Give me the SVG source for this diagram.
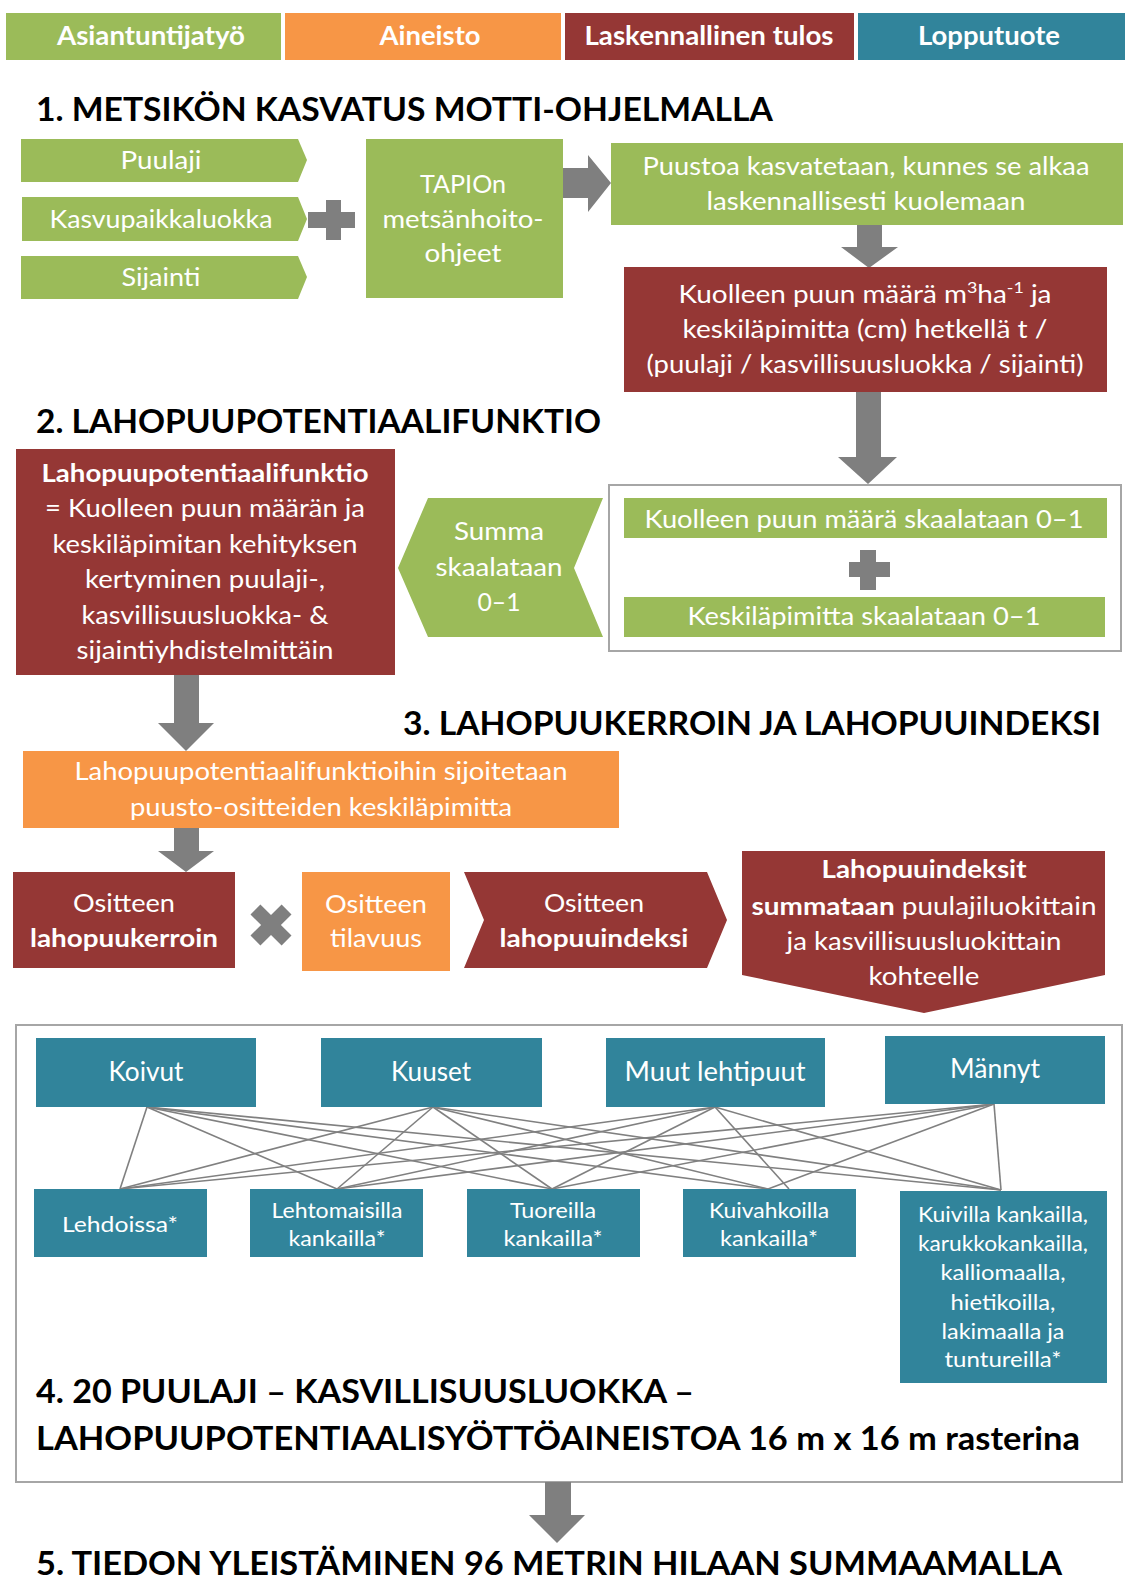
<svg xmlns="http://www.w3.org/2000/svg" width="1125" height="1579" viewBox="0 0 1125 1579">
<style>
text{font-family:Lato,"Open Sans","Liberation Sans",sans-serif;fill:#fff;text-anchor:middle;font-size:25px}
.t{fill:#000;font-weight:bold;font-size:33px;text-anchor:start}
.lg{font-weight:bold;font-size:26px}
.b{font-weight:bold}
.sp{font-size:26px}
.sm{font-size:21px}
.g{fill:#9BBB59}
.o{fill:#F79646}
.r{fill:#953735}
.c{fill:#31849B}
.ar{fill:#7F7F7F}
.frame{fill:#fff;stroke:#A6A6A6;stroke-width:2}
.ln{stroke:#808080;stroke-width:1.6;fill:none}
</style>
<rect width="1125" height="1579" fill="#fff"/>

<g id="legend">
<g id="legend-expert"><rect class="g" x="6" y="13" width="275" height="47"/><text class="lg" x="151" y="45" textLength="188" lengthAdjust="spacingAndGlyphs">Asiantuntijatyö</text></g>
<g id="legend-data"><rect class="o" x="285" y="13" width="276" height="47"/><text class="lg" x="430" y="45" textLength="101" lengthAdjust="spacingAndGlyphs">Aineisto</text></g>
<g id="legend-calc"><rect class="r" x="565" y="13" width="289" height="47"/><text class="lg" x="709" y="45" textLength="249" lengthAdjust="spacingAndGlyphs">Laskennallinen tulos</text></g>
<g id="legend-product"><rect class="c" x="858" y="13" width="267" height="47"/><text class="lg" x="989" y="45" textLength="142" lengthAdjust="spacingAndGlyphs">Lopputuote</text></g>
</g>

<g id="titles">
<text class="t" x="36" y="121" textLength="737" lengthAdjust="spacingAndGlyphs">1. METSIKÖN KASVATUS MOTTI-OHJELMALLA</text>
<text class="t" x="36" y="433" textLength="565" lengthAdjust="spacingAndGlyphs">2. LAHOPUUPOTENTIAALIFUNKTIO</text>
<text class="t" x="403" y="735" textLength="698" lengthAdjust="spacingAndGlyphs">3. LAHOPUUKERROIN JA LAHOPUUINDEKSI</text>
<text class="t" x="36" y="1575" textLength="1026" lengthAdjust="spacingAndGlyphs">5. TIEDON YLEISTÄMINEN 96 METRIN HILAAN SUMMAAMALLA</text>
</g>

<g id="frame4"><rect class="frame" x="16" y="1025" width="1106" height="457"/>
<text class="t" x="36" y="1403" textLength="658" lengthAdjust="spacingAndGlyphs">4. 20 PUULAJI – KASVILLISUUSLUOKKA –</text>
<text class="t" x="36" y="1450" textLength="1044" lengthAdjust="spacingAndGlyphs">LAHOPUUPOTENTIAALISYÖTTÖAINEISTOA 16 m x 16 m rasterina</text>
</g>

<g id="connectors">
<polygon class="ar" points="563,168 588,168 588,155 611,183 588,212 588,198 563,198"/>
<polygon class="ar" points="857,225 882,225 882,247 898,247 869,268 841,247 857,247"/>
<polygon class="ar" points="856,392 881,392 881,457 897,457 868,484 838,457 856,457"/>
<polygon class="ar" points="174,675 199,675 199,723 214,723 186,751 158,723 174,723"/>
<polygon class="ar" points="174,828 199,828 199,851 214,851 186,872 158,851 174,851"/>
<polygon class="ar" points="545,1482 571,1482 571,1515 585,1515 557,1543 529,1515 545,1515"/>
<g id="links">
<line class="ln" x1="147" y1="1107" x2="120" y2="1189"/>
<line class="ln" x1="147" y1="1107" x2="337" y2="1189"/>
<line class="ln" x1="147" y1="1107" x2="552" y2="1189"/>
<line class="ln" x1="147" y1="1107" x2="768" y2="1189"/>
<line class="ln" x1="147" y1="1107" x2="1001" y2="1190"/>
<line class="ln" x1="433" y1="1107" x2="120" y2="1189"/>
<line class="ln" x1="433" y1="1107" x2="337" y2="1189"/>
<line class="ln" x1="433" y1="1107" x2="552" y2="1189"/>
<line class="ln" x1="433" y1="1107" x2="768" y2="1189"/>
<line class="ln" x1="433" y1="1107" x2="1001" y2="1190"/>
<line class="ln" x1="715" y1="1107" x2="120" y2="1189"/>
<line class="ln" x1="715" y1="1107" x2="337" y2="1189"/>
<line class="ln" x1="715" y1="1107" x2="552" y2="1189"/>
<line class="ln" x1="715" y1="1107" x2="789" y2="1189"/>
<line class="ln" x1="715" y1="1107" x2="1001" y2="1190"/>
<line class="ln" x1="994" y1="1104" x2="120" y2="1189"/>
<line class="ln" x1="994" y1="1104" x2="337" y2="1189"/>
<line class="ln" x1="994" y1="1104" x2="552" y2="1189"/>
<line class="ln" x1="994" y1="1104" x2="768" y2="1189"/>
<line class="ln" x1="994" y1="1104" x2="1001" y2="1190"/>
</g>
</g>

<g id="puulaji"><polygon class="g" points="21,139 298,139 307,160 298,182 21,182"/><text x="161" y="169" textLength="81" lengthAdjust="spacingAndGlyphs">Puulaji</text></g>
<g id="kasvupaikkaluokka"><polygon class="g" points="22,197 298,197 307,219 298,241 22,241"/><text x="161" y="228" textLength="223" lengthAdjust="spacingAndGlyphs">Kasvupaikkaluokka</text></g>
<g id="sijainti"><polygon class="g" points="21,256 298,256 307,277 298,299 21,299"/><text x="161" y="286" textLength="79" lengthAdjust="spacingAndGlyphs">Sijainti</text></g>
<g id="plus1"><path class="ar" d="M308,212H326V200H341V212H355V228H341V240H326V228H308Z"/></g>
<g id="tapio"><rect class="g" x="366" y="139" width="197" height="159"/>
<text x="463" y="193" textLength="86" lengthAdjust="spacingAndGlyphs">TAPIOn</text>
<text x="463" y="228" textLength="161" lengthAdjust="spacingAndGlyphs">metsänhoito-</text>
<text x="463" y="262" textLength="77" lengthAdjust="spacingAndGlyphs">ohjeet</text></g>
<g id="kasvatus"><rect class="g" x="611" y="143" width="512" height="82"/>
<text x="866" y="175" textLength="447" lengthAdjust="spacingAndGlyphs">Puustoa kasvatetaan, kunnes se alkaa</text>
<text x="866" y="210" textLength="319" lengthAdjust="spacingAndGlyphs">laskennallisesti kuolemaan</text></g>
<g id="kuollut"><rect class="r" x="624" y="267" width="483" height="125"/>
<text x="865" y="303" textLength="373" lengthAdjust="spacingAndGlyphs">Kuolleen puun määrä m<tspan font-size="16" dy="-10">3</tspan><tspan dy="10">ha</tspan><tspan font-size="16" dy="-10">-1</tspan><tspan dy="10"> ja</tspan></text>
<text x="865" y="338" textLength="365" lengthAdjust="spacingAndGlyphs">keskiläpimitta (cm) hetkellä t /</text>
<text x="865" y="373" textLength="437" lengthAdjust="spacingAndGlyphs">(puulaji / kasvillisuusluokka / sijainti)</text></g>

<g id="skaalaus"><rect class="frame" x="609" y="485" width="512" height="166" stroke-width="1.5"/></g>
<g id="skaala-maara"><rect class="g" x="624" y="498" width="483" height="40"/><text x="864" y="528" textLength="439" lengthAdjust="spacingAndGlyphs">Kuolleen puun määrä skaalataan 0–1</text></g>
<g id="plus2"><path class="ar" d="M849,562H860V550H876V562H890V577H876V590H860V577H849Z"/></g>
<g id="skaala-lapimitta"><rect class="g" x="624" y="597" width="481" height="40"/><text x="864" y="625" textLength="353" lengthAdjust="spacingAndGlyphs">Keskiläpimitta skaalataan 0–1</text></g>
<g id="summa"><polygon class="g" points="428,498 603,498 574,568 603,637 428,637 398,568"/>
<text x="499" y="540" textLength="90" lengthAdjust="spacingAndGlyphs">Summa</text>
<text x="499" y="576" textLength="127" lengthAdjust="spacingAndGlyphs">skaalataan</text>
<text x="499" y="611" textLength="43" lengthAdjust="spacingAndGlyphs">0–1</text></g>
<g id="funktio"><rect class="r" x="16" y="449" width="379" height="226"/>
<text class="b" x="205" y="482" textLength="327" lengthAdjust="spacingAndGlyphs">Lahopuupotentiaalifunktio</text>
<text x="205" y="517" textLength="320" lengthAdjust="spacingAndGlyphs">= Kuolleen puun määrän ja</text>
<text x="205" y="553" textLength="305" lengthAdjust="spacingAndGlyphs">keskiläpimitan kehityksen</text>
<text x="205" y="588" textLength="240" lengthAdjust="spacingAndGlyphs">kertyminen puulaji-,</text>
<text x="205" y="624" textLength="247" lengthAdjust="spacingAndGlyphs">kasvillisuusluokka- &amp;</text>
<text x="205" y="659" textLength="257" lengthAdjust="spacingAndGlyphs">sijaintiyhdistelmittäin</text></g>

<g id="sijoitus"><rect class="o" x="23" y="751" width="596" height="77"/>
<text x="321" y="780" textLength="493" lengthAdjust="spacingAndGlyphs">Lahopuupotentiaalifunktioihin sijoitetaan</text>
<text x="321" y="816" textLength="382" lengthAdjust="spacingAndGlyphs">puusto-ositteiden keskiläpimitta</text></g>
<g id="kerroin"><rect class="r" x="13" y="872" width="222" height="96"/>
<text x="124" y="912" textLength="102" lengthAdjust="spacingAndGlyphs">Ositteen</text>
<text class="b" x="124" y="947" textLength="188" lengthAdjust="spacingAndGlyphs">lahopuukerroin</text></g>
<g id="kerto"><g transform="translate(271,925) rotate(45)"><path class="ar" d="M-22,-7H-7V-22H7V-7H22V7H7V22H-7V7H-22Z"/></g></g>
<g id="tilavuus"><rect class="o" x="302" y="872" width="148" height="99"/>
<text x="376" y="913" textLength="102" lengthAdjust="spacingAndGlyphs">Ositteen</text>
<text x="376" y="947" textLength="92" lengthAdjust="spacingAndGlyphs">tilavuus</text></g>
<g id="indeksi"><polygon class="r" points="464,872 707,872 727,920 707,968 464,968 484,920"/>
<text x="594" y="912" textLength="100" lengthAdjust="spacingAndGlyphs">Ositteen</text>
<text class="b" x="594" y="947" textLength="189" lengthAdjust="spacingAndGlyphs">lahopuuindeksi</text></g>
<g id="summaus"><polygon class="r" points="742,851 1105,851 1105,975 924,1013 742,975"/>
<text class="b" x="924" y="878" textLength="205" lengthAdjust="spacingAndGlyphs">Lahopuuindeksit</text>
<text x="924" y="915" textLength="345" lengthAdjust="spacingAndGlyphs"><tspan font-weight="bold">summataan</tspan> puulajiluokittain</text>
<text x="924" y="950" textLength="275" lengthAdjust="spacingAndGlyphs">ja kasvillisuusluokittain</text>
<text x="924" y="985" textLength="111" lengthAdjust="spacingAndGlyphs">kohteelle</text></g>

<g id="koivut"><rect class="c" x="36" y="1038" width="220" height="69"/><text class="sp" x="146" y="1081" textLength="75" lengthAdjust="spacingAndGlyphs">Koivut</text></g>
<g id="kuuset"><rect class="c" x="321" y="1038" width="221" height="69"/><text class="sp" x="431" y="1081" textLength="80" lengthAdjust="spacingAndGlyphs">Kuuset</text></g>
<g id="muut"><rect class="c" x="606" y="1038" width="219" height="69"/><text class="sp" x="715" y="1081" textLength="181" lengthAdjust="spacingAndGlyphs">Muut lehtipuut</text></g>
<g id="mannyt"><rect class="c" x="885" y="1036" width="220" height="68"/><text class="sp" x="995" y="1078" textLength="90" lengthAdjust="spacingAndGlyphs">Männyt</text></g>

<g id="lehdoissa"><rect class="c" x="34" y="1189" width="173" height="68"/><text class="sm" x="120" y="1232" textLength="116" lengthAdjust="spacingAndGlyphs">Lehdoissa*</text></g>
<g id="lehtomaisilla"><rect class="c" x="250" y="1189" width="173" height="68"/>
<text class="sm" x="337" y="1218" textLength="131" lengthAdjust="spacingAndGlyphs">Lehtomaisilla</text>
<text class="sm" x="337" y="1246" textLength="97" lengthAdjust="spacingAndGlyphs">kankailla*</text></g>
<g id="tuoreilla"><rect class="c" x="467" y="1189" width="173" height="68"/>
<text class="sm" x="553" y="1218" textLength="86" lengthAdjust="spacingAndGlyphs">Tuoreilla</text>
<text class="sm" x="553" y="1246" textLength="99" lengthAdjust="spacingAndGlyphs">kankailla*</text></g>
<g id="kuivahkoilla"><rect class="c" x="683" y="1189" width="173" height="68"/>
<text class="sm" x="769" y="1218" textLength="120" lengthAdjust="spacingAndGlyphs">Kuivahkoilla</text>
<text class="sm" x="769" y="1246" textLength="98" lengthAdjust="spacingAndGlyphs">kankailla*</text></g>
<g id="kuivilla"><rect class="c" x="900" y="1191" width="207" height="192"/>
<text class="sm" x="1003" y="1222" textLength="170" lengthAdjust="spacingAndGlyphs">Kuivilla kankailla,</text>
<text class="sm" x="1003" y="1251" textLength="170" lengthAdjust="spacingAndGlyphs">karukkokankailla,</text>
<text class="sm" x="1003" y="1280" textLength="125" lengthAdjust="spacingAndGlyphs">kalliomaalla,</text>
<text class="sm" x="1003" y="1310" textLength="105" lengthAdjust="spacingAndGlyphs">hietikoilla,</text>
<text class="sm" x="1003" y="1339" textLength="123" lengthAdjust="spacingAndGlyphs">lakimaalla ja</text>
<text class="sm" x="1003" y="1367" textLength="117" lengthAdjust="spacingAndGlyphs">tuntureilla*</text></g>
</svg>
